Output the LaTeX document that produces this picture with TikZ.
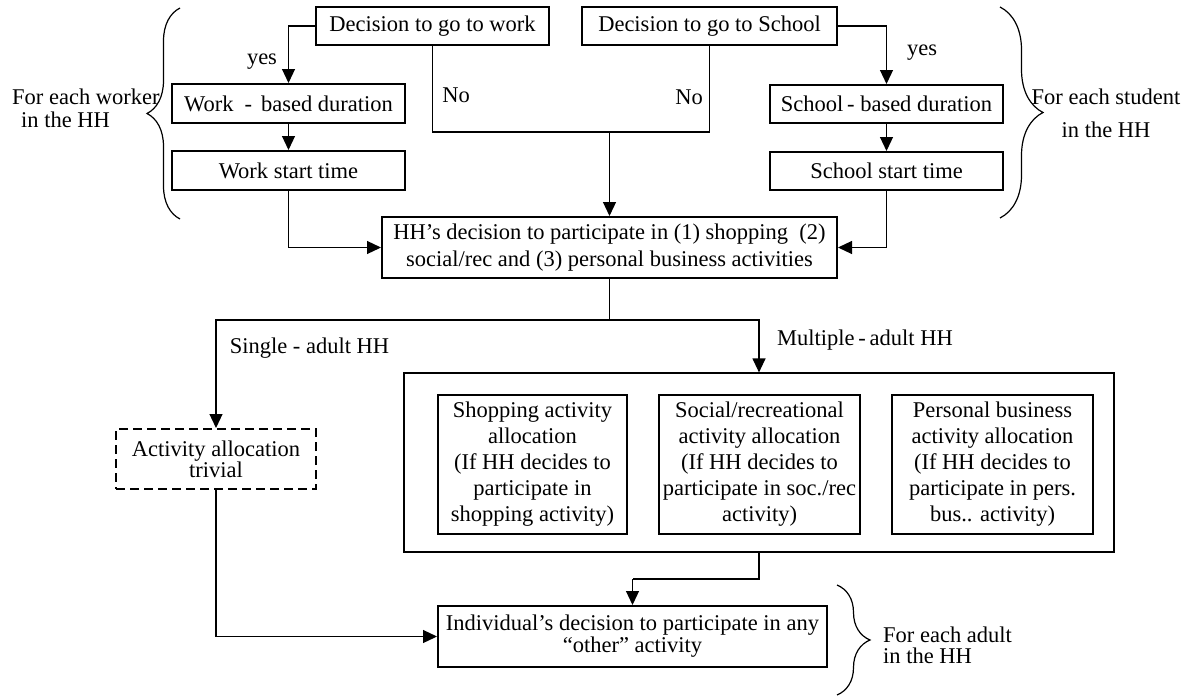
\documentclass[tikz,border=0pt]{standalone}
\usepackage{fontspec}
\setmainfont{Liberation Serif}
\usetikzlibrary{arrows.meta,decorations.pathreplacing}

\begin{document}
\begin{tikzpicture}[x=1pt,y=-1pt,
  font=\fontsize{22.5}{26}\selectfont,
  box/.style={draw, line width=2pt, inner sep=0pt, align=center},
  conn/.style={line width=1.2pt},
  arr/.style={conn, -{Triangle[length=14pt,width=13pt]}},
  lbl/.style={inner sep=0pt},
  lead/.style={font=\fontsize{22.5}{#1}\selectfont},
  brc/.style={decorate, decoration={brace, amplitude=#1}, line width=1.2pt},
]
\useasboundingbox (0,0) rectangle (1185,696);

% top decisions
\node[box, minimum width=233pt, minimum height=38pt] (dwork) at (432.5,26) {Decision to go to work};
\node[box, minimum width=255pt, minimum height=38pt] (dschool) at (709.5,26) {Decision to go to School};

% worker branch
\node[box, minimum width=233pt, minimum height=39pt] (wdur) at (288.5,103.5) {Work\hspace{11pt}-\hspace{9pt}based duration};
\node[box, minimum width=233pt, minimum height=39pt] (wstart) at (288.5,170.5) {Work start time};

% student branch
\node[box, minimum width=233pt, minimum height=38pt] (sdur) at (886.5,104) {School\,- based duration};
\node[box, minimum width=233pt, minimum height=38pt] (sstart) at (886.5,171) {School start time};

% household participation
\node[box, lead=27, minimum width=455pt, minimum height=61pt] (hh) at (609.5,247.5)
  {HH’s decision to participate in (1) shopping\ \ (2)\\social/rec and (3) personal business activities};

% single adult
\node[box, lead=21, dash pattern=on 9pt off 5pt, minimum width=200pt, minimum height=60pt] (triv) at (216,459)
  {Activity allocation\\trivial};

% multiple adults
\node[draw, line width=1.2pt, inner sep=0pt, minimum width=710pt, minimum height=179pt] (multi) at (759,462.5) {};
\node[box, minimum width=189pt, minimum height=139pt] (shop) at (532.5,464.5)
  {Shopping activity\\allocation\\(If HH decides to\\participate in\\shopping activity)};
\node[box, minimum width=201pt, minimum height=139pt] (soc) at (759.5,464.5)
  {Social/recreational\\activity allocation\\(If HH decides to\\participate in soc./rec\\activity)};
\node[box, minimum width=201pt, minimum height=139pt] (pers) at (992.5,464.5)
  {Personal business\\activity allocation\\(If HH decides to\\participate in pers.\\bus.. activity)};

% individual decision
\node[box, lead=22, minimum width=389pt, minimum height=61pt] (indiv) at (632.5,636.5)
  {Individual’s decision to participate in any\\“other” activity};

% labels
\node[lbl] (yesw) at (262,62) {yes};
\node[lbl] (now) at (456,95) {No};
\node[lbl] (nos) at (689,97) {No};
\node[lbl] (yess) at (922,53) {yes};
\node[lbl, lead=23, anchor=west, align=left] (worker) at (12,108.5) {For each worker\\\hspace*{9pt}in the HH};
\node[lbl, lead=33, align=center] (student) at (1106,113.5) {For each student\\in the HH};
\node[lbl, lead=21, anchor=west, align=left] (adult) at (883,645) {For each adult\\in the HH};
\node[lbl] (single) at (309.5,348) {Single - adult HH};
\node[lbl] (multiple) at (865,340) {Multiple\,-\,adult HH};

% connectors
\draw[arr] (dwork.west) -| (wdur.north);
\draw[arr] (wdur) -- (wstart);
\draw[arr] (dschool.east) -| (sdur.north);
\draw[arr] (sdur) -- (sstart);
\coordinate (nomid) at (609.5,132);
\draw[conn] (dwork.south) |- (nomid) -| (dschool.south);
\draw[arr] (nomid) -- (hh.north);
\draw[arr] (wstart.south) |- (hh.west);
\draw[arr] (sstart.south) |- (hh.east);
\coordinate (split) at (609.5,320);
\draw[conn] (hh.south) -- (split);
\draw[arr] (split) -| (triv.north);
\draw[arr] (split) -| (multi.north);
\coordinate (merge) at (632.5,579);
\draw[conn] (multi.south) |- (merge);
\draw[arr] (merge) -- (indiv.north);
\draw[arr] (triv.south) |- (indiv.west);

% braces
\draw[brc=33pt] (180,219) -- (180,8);
\draw[brc=43pt] (1000,7) -- (1000,218);
\draw[brc=33pt] (837,585) -- (837,695);
\end{tikzpicture}
\end{document}
